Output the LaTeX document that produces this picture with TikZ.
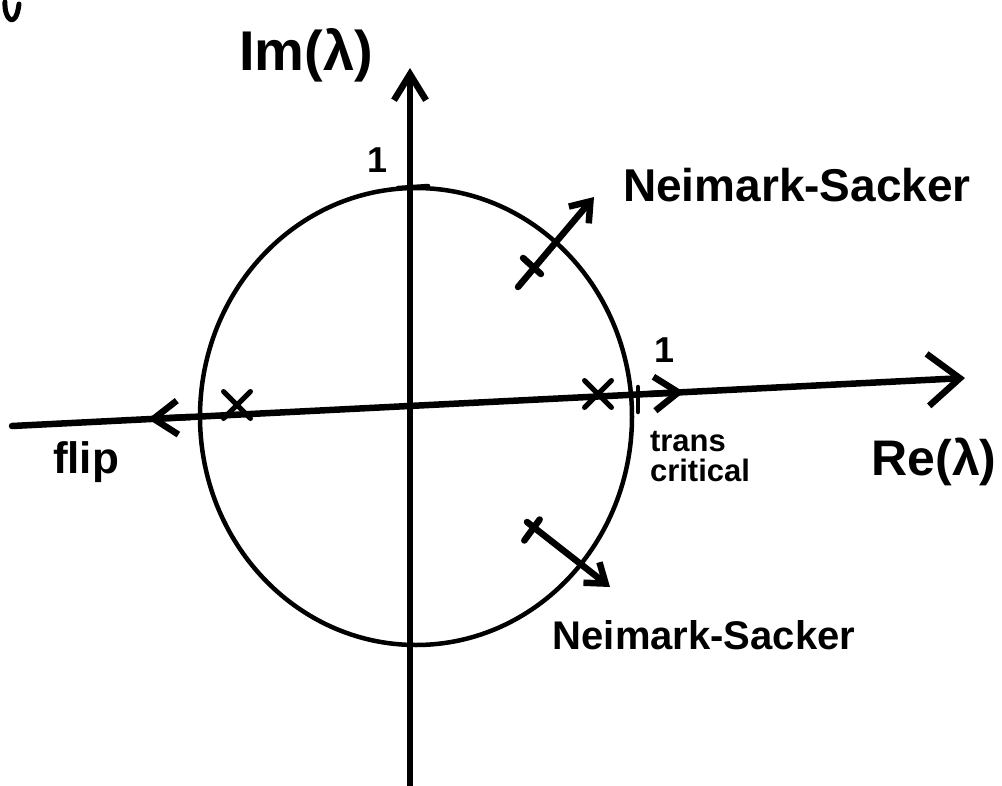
\documentclass[tikz,border=0pt]{standalone}
\usepackage{fontspec}
\setmainfont{Liberation Sans}
\usetikzlibrary{arrows.meta,shapes.misc,shapes.geometric,calc}
\begin{document}
\begin{tikzpicture}[x=1pt,y=-1pt,
  ink/.style={line width=6.5pt,line cap=round,line join=round},
  thin ink/.style={line width=4.5pt,line cap=round,line join=round},
  bigtip/.style={-{Straight Barb[length=32pt,width=52pt]}},
  axtip/.style={-{Straight Barb[length=26pt,width=32pt]}},
  midtip/.style={-{Straight Barb[length=24pt,width=34pt]}},
  smalltip/.style={-{Straight Barb[length=18pt,width=26pt]}},
  xmark/.style={cross out,draw,line width=5pt,line cap=round,minimum size=22pt,inner sep=0pt},
  lbl/.style={inner sep=0pt,font=\bfseries\fontsize{#1}{#1}\selectfont},
  lbl2/.style={inner sep=0pt,align=left,font=\bfseries\fontsize{31}{30}\selectfont}]
\useasboundingbox (0,0) rectangle (1002,785);
% stray pen mark
\draw[ink,line width=5pt] (5,2) .. controls (4,20) and (16,30) .. (19,4);
% axes
\coordinate (xL) at (12,426);
\coordinate (xR) at (965,378);
\coordinate (yB) at (410,790);
\coordinate (yT) at (410,68);
\draw[ink,bigtip] (xL) -- (xR);
\draw[ink,axtip] (yB) -- (yT);
% unit circle
\node[draw,ellipse,thin ink,minimum width=432pt,minimum height=457pt,inner sep=0pt] (circ) at (416,416.5) {};
% ticks and "1" labels
\coordinate (tT1) at (398,188);
\coordinate (tT2) at (428,186);
\draw[thin ink] (tT1) -- (tT2);
\coordinate (tR1) at (638,387);
\coordinate (tR2) at (638,412);
\draw[thin ink] (tR1) -- (tR2);
\node[lbl=36] (oneT) at (378,160) {1};
\node[lbl=36] (oneR) at (665,350) {1};
% axis labels
\node[lbl=56] (im) at (306,55) {Im(λ)};
\node[lbl=50] (re) at (934,462) {Re(λ)};
% crosses on the real axis
\node[xmark] (xflip) at (237,405) {};
\node[xmark] (xtc) at (598,394) {};
% flip arrow head on the axis
\coordinate (flipS) at (190,417);
\coordinate (flipT) at (148,419);
\draw[ink,midtip] (flipS) -- (flipT);
% transcritical arrow head on the axis
\coordinate (tcS) at (650,394);
\coordinate (tcT) at (684,392);
\draw[ink,midtip] (tcS) -- (tcT);
% Neimark-Sacker (upper)
\coordinate (nsAt) at (518,287);
\coordinate (nsAh) at (594,197);
\coordinate (nsA) at (532,266);
\draw[ink,smalltip] (nsAt) -- (nsAh);
\draw[ink] ($(nsA)!12pt!90:(nsAh)$) -- ($(nsA)!12pt!-90:(nsAh)$);
% Neimark-Sacker (lower)
\coordinate (nsBt) at (527,522);
\coordinate (nsBh) at (610,587);
\coordinate (nsB) at (532,530);
\draw[ink,smalltip] (nsBt) -- (nsBh);
\draw[ink] ($(nsB)!13pt!90:(nsBh)$) -- ($(nsB)!13pt!-90:(nsBh)$);
% labels
\node[lbl=46] (nsAl) at (797,185) {Neimark-Sacker};
\node[lbl=40] (nsBl) at (704,635) {Neimark-Sacker};
\node[lbl=44] (flip) at (86,462) {flip};
\node[lbl2] (tc) at (700,457) {trans\\critical};
\end{tikzpicture}
\end{document}
